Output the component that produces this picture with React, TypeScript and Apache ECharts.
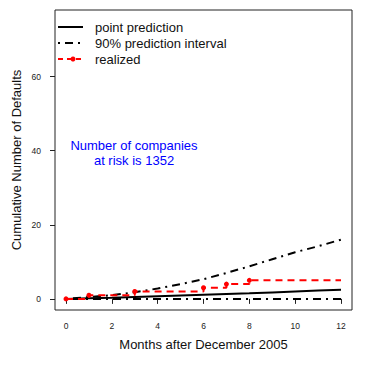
import React, { useEffect, useRef } from "react";
import * as echarts from "echarts";

const months = [0, 1, 2, 3, 4, 5, 6, 7, 8, 9, 10, 11, 12];
const pointPrediction = [0, 0.15, 0.3, 0.5, 0.7, 0.9, 1.1, 1.3, 1.5, 1.75, 2.0, 2.25, 2.5];
const upperInterval = [0, 0.5, 1, 1.8, 2.8, 4, 5.3, 7, 8.8, 10.7, 12.6, 14.2, 16];
const lowerInterval = [0, 0, 0, 0, 0, 0, 0, 0, 0, 0, 0, 0, 0];
const realized = [0, 1, 1, 2, 2, 2, 3, 4, 5, 5, 5, 5, 5];
const xTicks = [0, 2, 4, 6, 8, 10, 12];
const yTickMin = 0;
const yTickMax = 60;
const yTickStep = 20;
const legendLabels = ["point prediction", "90% prediction interval", "realized"];

const FONT = "'Liberation Sans', Arial, Helvetica, sans-serif";
const DASHDOT = [2, 5, 8, 5];

// plot area
const GL = 55, GT = 10, GW = 297, GH = 300;
const YMIN = -3, YMAX = 78;

export default function App() {
  const ref = useRef<HTMLDivElement>(null);
  useEffect(() => {
    if (!ref.current) return;
    const chart = echarts.init(ref.current, undefined, { renderer: "svg" });
    const pts = (arr: number[]) => months.map((m, i) => [m, arr[i]]);
    const realizedData = months.map((m, i) => {
      const changed = i === 0 || realized[i] !== realized[i - 1];
      return changed ? { value: [m, realized[i]] } : { value: [m, realized[i]], symbol: "none" };
    });
    const ppu = GH / (YMAX - YMIN);
    const yTop = GT + (YMAX - yTickMax) * ppu;
    const yBot = GT + (YMAX - yTickMin) * ppu;
    chart.setOption({
      animation: false,
      backgroundColor: "#fff",
      textStyle: { fontFamily: FONT },
      grid: [
        {
          left: GL,
          top: GT,
          width: GW,
          height: GH,
          show: true,
          borderColor: "#222",
          borderWidth: 1,
          backgroundColor: "transparent",
        },
        {
          left: GL,
          top: yTop,
          width: GW,
          height: yBot - yTop,
        },
      ],
      xAxis: [
        {
          type: "value",
          gridIndex: 0,
          min: -0.48,
          max: 12.48,
          name: "Months after December 2005",
          nameLocation: "middle",
          nameGap: 28,
          nameTextStyle: { fontSize: 13, color: "#111", fontFamily: FONT },
          axisLine: { show: false },
          splitLine: { show: false },
          axisTick: {
            show: true,
            customValues: xTicks,
            length: 5,
            lineStyle: { color: "#222" },
          },
          axisLabel: {
            customValues: xTicks,
            fontSize: 8.5,
            color: "#222",
            margin: 11,
            fontFamily: FONT,
          },
        },
        {
          type: "value",
          gridIndex: 1,
          min: 0,
          max: 12,
          show: false,
        },
      ],
      yAxis: [
        {
          type: "value",
          gridIndex: 0,
          min: YMIN,
          max: YMAX,
          name: "Cumulative Number of Defaults",
          nameLocation: "middle",
          nameGap: 32,
          nameTextStyle: { fontSize: 13, color: "#111", fontFamily: FONT },
          axisLine: { show: false },
          splitLine: { show: false },
          axisTick: { show: false },
          axisLabel: { show: false },
        },
        {
          type: "value",
          gridIndex: 1,
          min: yTickMin,
          max: yTickMax,
          interval: yTickStep,
          axisLine: { show: false },
          splitLine: { show: false },
          axisTick: {
            show: true,
            length: 5,
            lineStyle: { color: "#222" },
          },
          axisLabel: {
            fontSize: 8.5,
            color: "#222",
            margin: 14,
            fontFamily: FONT,
          },
        },
      ],
      series: [
        {
          name: legendLabels[0],
          type: "line",
          data: pts(pointPrediction),
          showSymbol: false,
          lineStyle: { color: "#000", width: 2 },
        },
        {
          name: legendLabels[1],
          type: "line",
          data: pts(upperInterval),
          showSymbol: false,
          lineStyle: { color: "#000", width: 2, type: DASHDOT },
        },
        {
          name: legendLabels[1] + " lower",
          type: "line",
          data: pts(lowerInterval),
          showSymbol: false,
          lineStyle: { color: "#000", width: 2, type: DASHDOT },
        },
        {
          name: legendLabels[2],
          type: "line",
          step: "end",
          data: realizedData,
          symbol: "circle",
          symbolSize: 5,
          showAllSymbol: true,
          itemStyle: { color: "#ff0000" },
          lineStyle: { color: "#ff0000", width: 2, type: [7, 5] },
        },
      ],
      graphic: [
        { type: "line", shape: { x1: 58, y1: 27, x2: 83, y2: 27 }, style: { stroke: "#000", lineWidth: 2 } },
        { type: "text", x: 95, y: 27, style: { text: legendLabels[0], fontSize: 13, fill: "#111", fontFamily: FONT, textVerticalAlign: "middle" } },
        { type: "line", shape: { x1: 58, y1: 43, x2: 83, y2: 43 }, style: { stroke: "#000", lineWidth: 2, lineDash: [2, 5, 8, 5] } },
        { type: "text", x: 95, y: 43, style: { text: legendLabels[1], fontSize: 13, fill: "#111", fontFamily: FONT, textVerticalAlign: "middle" } },
        { type: "line", shape: { x1: 58, y1: 59, x2: 83, y2: 59 }, style: { stroke: "#ff0000", lineWidth: 2, lineDash: [5, 4] } },
        { type: "circle", shape: { cx: 73, cy: 59, r: 2.5 }, style: { fill: "#ff0000" } },
        { type: "text", x: 95, y: 59, style: { text: legendLabels[2], fontSize: 13, fill: "#111", fontFamily: FONT, textVerticalAlign: "middle" } },
        { type: "text", x: 134, y: 145, style: { text: "Number of companies", fontSize: 13, fill: "#0000ff", fontFamily: FONT, textAlign: "center", textVerticalAlign: "middle" } },
        { type: "text", x: 134, y: 160, style: { text: "at risk is 1352", fontSize: 13, fill: "#0000ff", fontFamily: FONT, textAlign: "center", textVerticalAlign: "middle" } },
      ],
    });
    return () => chart.dispose();
  }, []);
  return <div ref={ref} style={{ width: 374, height: 374, position: "absolute", left: 0, top: 0 }} />;
}
